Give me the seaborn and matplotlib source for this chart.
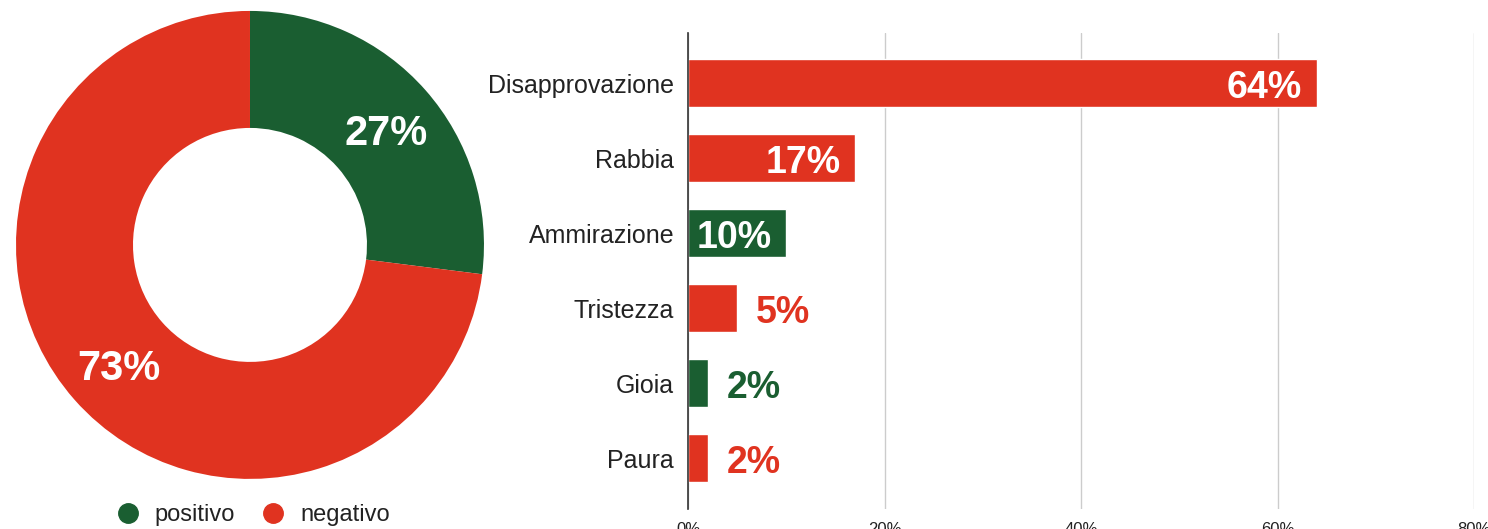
import seaborn as sns
import matplotlib.pyplot as plt
import pandas as pd
from matplotlib.lines import Line2D

# dati del grafico a ciambella
sentimenti = ["positivo", "negativo"]
quote_sentimenti = [27, 73]

# dati delle emozioni
emozioni = ["Disapprovazione", "Rabbia", "Ammirazione", "Tristezza", "Gioia", "Paura"]
quote_emozioni = [0.64, 0.17, 0.10, 0.05, 0.02, 0.02]
tipo_emozione = ["negativo", "negativo", "positivo", "negativo", "positivo", "negativo"]
etichette_x = ["0%", "20%", "40%", "60%", "80%"]

VERDE = "#1A5E31"
ROSSO = "#E03320"
colori = {"positivo": VERDE, "negativo": ROSSO}

sns.set_theme(style="white")
plt.rcParams["font.family"] = ["Liberation Sans", "DejaVu Sans"]

fig = plt.figure(figsize=(14.88, 5.29), dpi=100)

# ---- ciambella ----
ax1 = fig.add_axes([0.01075, 0.0945, 0.3145, 0.885])
wedges, testi, pct = ax1.pie(quote_sentimenti, colors=[colori[s] for s in sentimenti],
                             startangle=90, counterclock=False, radius=1,
                             wedgeprops=dict(width=0.5, edgecolor="none"),
                             autopct=lambda p: f"{p:.0f}%", pctdistance=0.76)
for t in pct:
    x, y = t.get_position()
    t.set_position((x + 0.01, y - 0.075))
    t.set_va("baseline")
    t.set_color("white")
    t.set_fontsize(30)
    t.set_fontweight("bold")
ax1.set_xlim(-1, 1)
ax1.set_ylim(-1, 1)
ax1.set_aspect("equal")

maniglie = [Line2D([], [], marker="o", linestyle="", markersize=14,
                   markerfacecolor=colori[s], markeredgecolor=colori[s], label=s)
            for s in sentimenti]
fig.legend(handles=maniglie, loc="center", bbox_to_anchor=(247 / 1488, 1 - 515 / 529),
           ncol=2, frameon=False, fontsize=17, handletextpad=0.15, columnspacing=0.6,
           labelcolor="#222222")

# ---- barre ----
df = pd.DataFrame({"Emozione": emozioni, "Quota": quote_emozioni, "Tipo": tipo_emozione})
ax2 = fig.add_axes([688 / 1488, 1 - 509 / 529, 786 / 1488, 476 / 529])
sns.barplot(data=df, x="Quota", y="Emozione", hue="Tipo", palette=colori, saturation=1,
            dodge=False, width=0.64, legend=False, ax=ax2, zorder=3)
ax2.set_xlim(0, 0.8)
ax2.set_ylim(5.68, -0.667)
ax2.set_xticks([0, 0.2, 0.4, 0.6, 0.8])
ax2.set_xticklabels(etichette_x)
ax2.set_xlabel("")
ax2.set_ylabel("")
ax2.xaxis.grid(True, color="#CCCCCC", linewidth=1, zorder=0)
ax2.set_axisbelow(True)
for s in ["top", "right", "bottom"]:
    ax2.spines[s].set_visible(False)
ax2.spines["left"].set_color("#333333")
ax2.spines["left"].set_linewidth(1.2)
ax2.spines["left"].set_zorder(4)
ax2.tick_params(axis="y", length=0, labelsize=18, pad=10, labelcolor="#222222")
ax2.tick_params(axis="x", length=0, labelsize=12, pad=9, labelcolor="#222222")

for i, v in enumerate(quote_emozioni):
    col = colori[tipo_emozione[i]]
    testo = f"{v * 100:.0f}%"
    if v >= 0.1:
        ax2.text(v - 0.015, i + 0.2, testo, ha="right", va="baseline", color="white",
                 fontsize=27, fontweight="bold", zorder=5)
    else:
        ax2.text(v + 0.019, i + 0.2, testo, ha="left", va="baseline", color=col,
                 fontsize=27, fontweight="bold", zorder=5)

plt.savefig("out.png", dpi=100)
